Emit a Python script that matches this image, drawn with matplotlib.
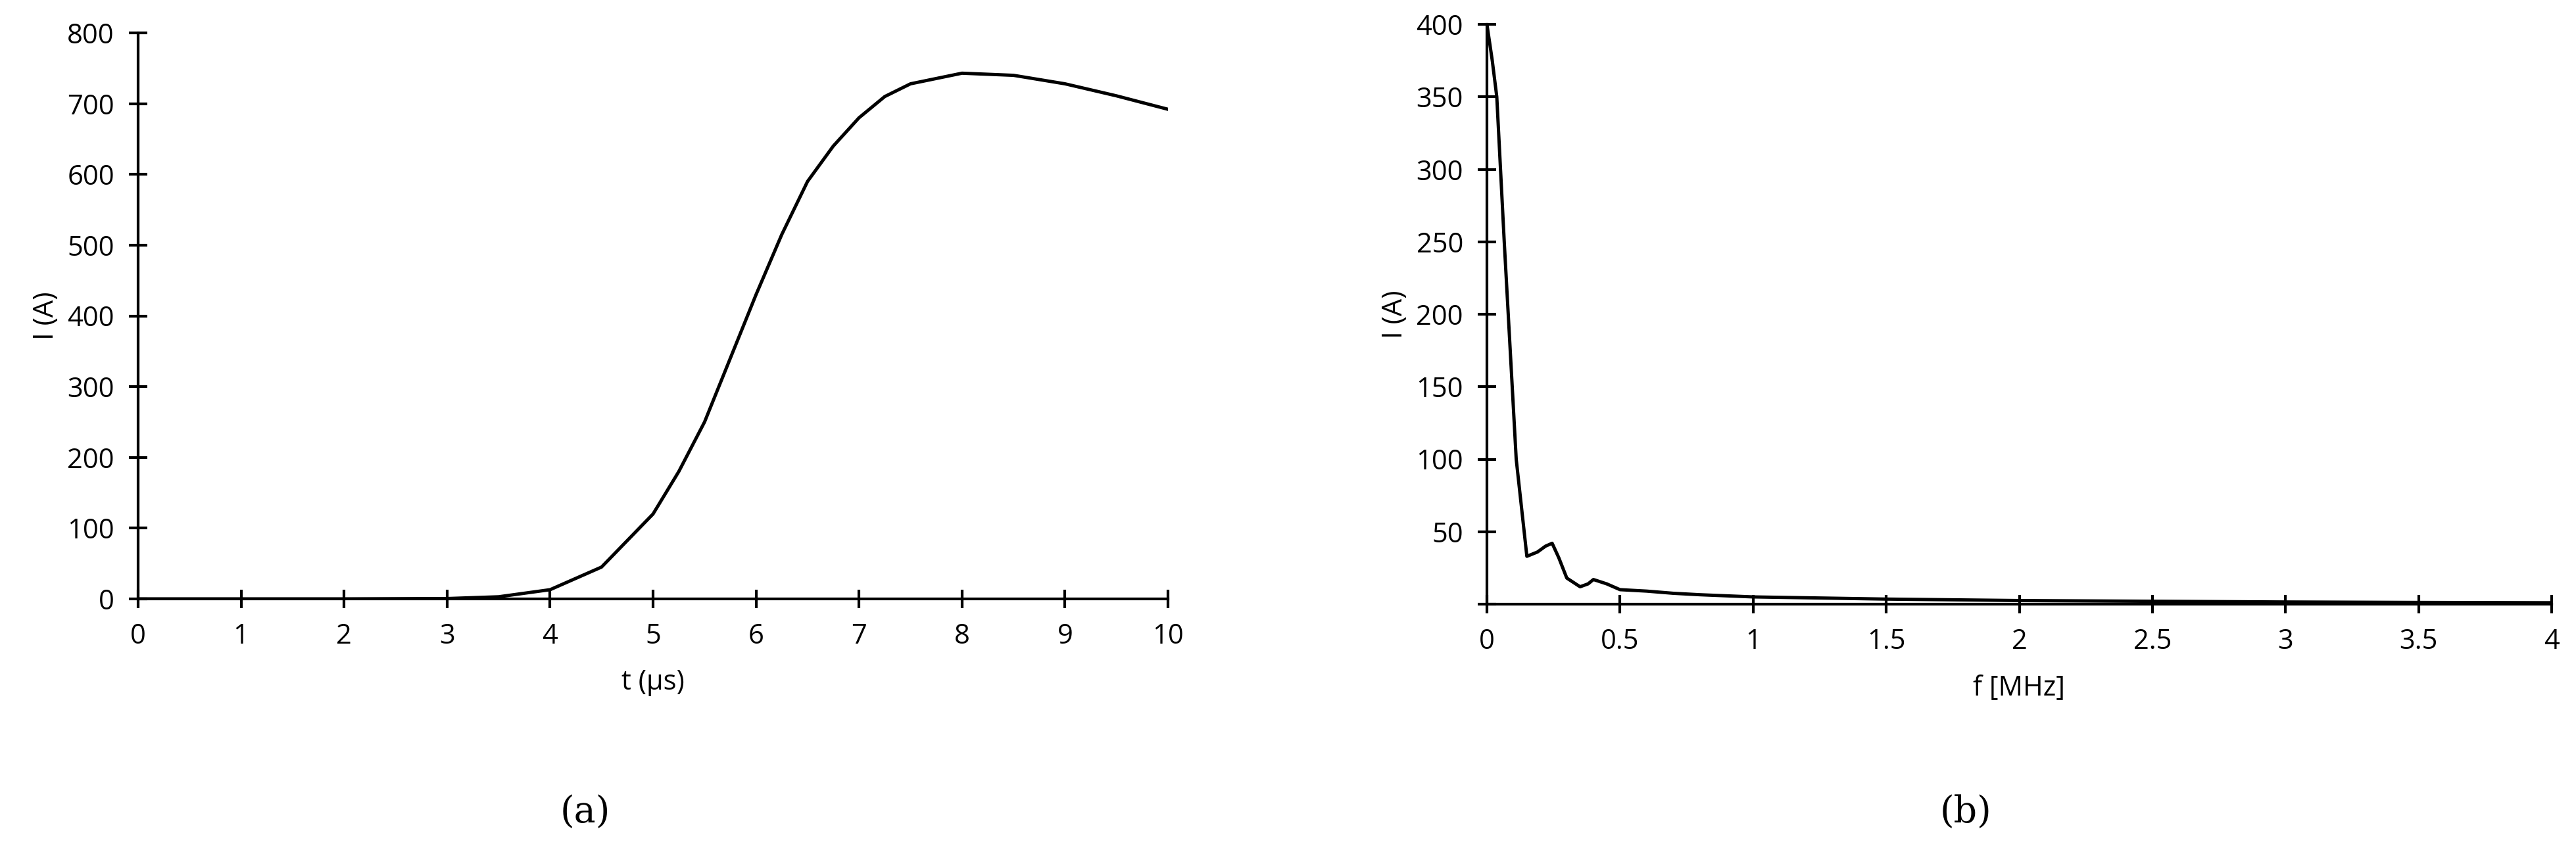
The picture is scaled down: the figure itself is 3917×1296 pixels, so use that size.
import matplotlib
matplotlib.use("Agg")
import matplotlib.pyplot as plt

# panel (a): current pulse in time
t_us = [0, 1, 2, 3, 3.5, 4, 4.5, 5, 5.25, 5.5, 5.75, 6, 6.25, 6.5, 6.75, 7, 7.25, 7.5, 8, 8.5, 9, 9.5, 10]
i_time = [0, 0, 0, 0.5, 3, 13, 45, 120, 180, 250, 340, 430, 515, 590, 640, 680, 710, 728, 743, 740, 728, 711, 692]

# panel (b): spectrum
f_mhz = [0, 0.02, 0.037, 0.065, 0.11, 0.15, 0.19, 0.22, 0.245, 0.27, 0.3, 0.35, 0.38, 0.4, 0.45, 0.5,
         0.6, 0.7, 0.8, 1.0, 1.5, 2.0, 2.5, 3.0, 3.5, 4.0]
i_freq = [400, 375, 350, 250, 100, 33, 36, 40, 42, 32, 18, 12, 14, 17, 14, 10,
          9, 7.5, 6.5, 5, 3.5, 2.5, 2, 1.5, 1.2, 1]

plt.rcParams["font.family"] = ["Open Sans", "DejaVu Sans"]
FS = 15

fig = plt.figure(figsize=(19.585, 6.48), dpi=200)
ax1 = fig.add_axes([210 / 3917, 1 - 911 / 1296, (1776 - 210) / 3917, (911 - 50) / 1296])
ax2 = fig.add_axes([2261 / 3917, 1 - 919 / 1296, (3880 - 2261) / 3917, (919 - 37) / 1296])

for ax in (ax1, ax2):
    for s in ("top", "right"):
        ax.spines[s].set_visible(False)
    for s in ("left", "bottom"):
        ax.spines[s].set_linewidth(1.5)
    ax.tick_params(direction="inout", length=10, width=1.5, labelsize=FS, pad=8)
    ax.set_ylabel("I (A)", fontsize=FS)

ax1.plot(t_us, i_time, color="black", lw=1.8)
ax1.set_xlim(0, 10)
ax1.set_ylim(0, 800)
ax1.set_xticks(range(0, 11))
ax1.set_yticks(range(0, 801, 100))
ax1.set_xlabel("t (\u00b5s)", fontsize=FS, labelpad=10)

ax2.plot(f_mhz, i_freq, color="black", lw=1.8)
ax2.set_xlim(0, 4)
ax2.set_ylim(0, 400)
ax2.set_xticks([0, 0.5, 1, 1.5, 2, 2.5, 3, 3.5, 4])
ax2.set_xticklabels(["0", "0.5", "1", "1.5", "2", "2.5", "3", "3.5", "4"])
ax2.set_yticks(range(0, 401, 50))
ax2.set_yticklabels([""] + [str(v) for v in range(50, 401, 50)])
ax2.set_xlabel("f [MHz]", fontsize=FS, labelpad=10)

fig.text(890 / 3917, 1 - 1236 / 1296, "(a)", fontsize=20, family="DejaVu Serif",
         ha="center", va="center")
fig.text(2989 / 3917, 1 - 1236 / 1296, "(b)", fontsize=20, family="DejaVu Serif",
         ha="center", va="center")

fig.savefig("out.png", dpi=200)
